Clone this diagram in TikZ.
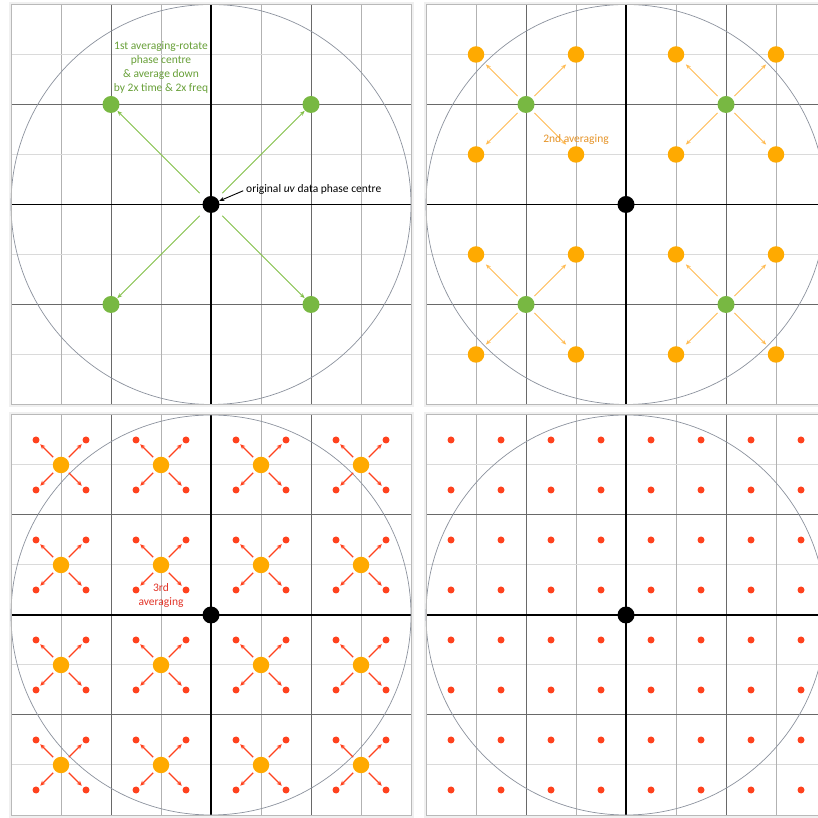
\documentclass[tikz,border=0pt]{standalone}
\usepackage{fontspec}
\setmainfont{Carlito}
\usepackage{tikz}
\usetikzlibrary{arrows.meta}
\definecolor{GridLight}{RGB}{178,178,178}
\definecolor{GridPale}{RGB}{218,218,218}
\definecolor{GridDark}{RGB}{105,105,105}
\definecolor{RimGray}{RGB}{140,146,158}
\definecolor{LeafGreen}{RGB}{120,184,66}
\definecolor{ArrowGreen}{RGB}{130,192,72}
\definecolor{NoteGreen}{RGB}{104,160,56}
\definecolor{Amber}{RGB}{255,170,0}
\definecolor{ArrowAmber}{RGB}{255,188,84}
\definecolor{TextAmber}{RGB}{230,148,40}
\definecolor{Vermilion}{RGB}{255,66,30}
\definecolor{TextRed}{RGB}{226,52,40}

\tikzset{
	minorv/.style={draw=GridLight, line width=1pt},
	minorh/.style={draw=GridPale, line width=1pt},
	major/.style={draw=GridDark, line width=1pt},
	axis/.style={draw=black, line width=1.1pt},
	rim/.style={draw=RimGray, line width=0.7pt},
	greenarrow/.style={ArrowGreen, line width=0.9pt, -{Stealth[length=5pt,width=4pt]}, shorten <=16pt, shorten >=9pt},
	amberarrow/.style={ArrowAmber, line width=0.9pt, -{Stealth[length=5pt,width=4pt]}, shorten <=12pt, shorten >=14pt},
	redarrow/.style={Vermilion, line width=1.1pt, -{Stealth[length=5pt,width=4.5pt]}, shorten <=11pt, shorten >=6pt},
	notetext/.style={font=\fontsize{11.5}{14}\selectfont, align=center, inner sep=1pt}
}

\begin{document}
\begin{tikzpicture}[x=50pt, y=50pt]
		\clip (0,0) rectangle (16.36,16.36);
		\fill[white] (0,0) rectangle (16.36,16.36);
		\coordinate (O1) at (4.22,12.27);
		\coordinate (O2) at (12.52,12.27);
		\coordinate (O3) at (4.22,4.06);
		\coordinate (O4) at (12.52,4.06);
		% grids
		\foreach \p in {O1,O2,O3,O4} {
			\begin{scope}[shift={(\p)}]
				\draw[gray!12, line width=5pt] (-4,-4) rectangle (4,4);
				\fill[white] (-4,-4) rectangle (4,4);
				\foreach \k in {-3,-1,1,3} {
					\draw[minorh] (-4,\k) -- (4,\k);
					\draw[minorv] (\k,-4) -- (\k,4);
				}
				\foreach \k in {-2,2} {
					\draw[major] (-4,\k) -- (4,\k);
					\draw[major] (\k,-4) -- (\k,4);
				}
				\draw[axis] (-4,0) -- (4,0);
				\draw[axis] (0,-4) -- (0,4);
				\draw[rim] (0,0) circle (4);
				\draw[gray!55, line width=1pt] (-4,-4) rectangle (4,4);
			\end{scope}
		}
		% 1st averaging
		\begin{scope}[shift={(O1)}]
			\foreach \gx/\gy/\n in {-2/2/a, 2/2/b, -2/-2/c, 2/-2/d} {
				\coordinate (G1\n) at (\gx,\gy);
				\draw[greenarrow] (O1) -- (G1\n);
				\fill[LeafGreen] (G1\n) circle (0.17);
			}
			\node[notetext, NoteGreen] (avg1) at (-1,2.74) {1st averaging-rotate\\phase centre\\\& average down\\by 2x time \& 2x freq};
			\node[notetext, anchor=west] (orig) at (0.68,0.29) {original \textit{uv} data phase centre};
		\end{scope}
		\draw[-{Stealth[length=5pt,width=4pt]}, line width=0.9pt, shorten <=2pt, shorten >=9pt] (orig.west) -- (O1);
		% 2nd averaging
		\begin{scope}[shift={(O2)}]
			\foreach \gx/\gy/\n in {-2/2/a, 2/2/b, -2/-2/c, 2/-2/d} {
				\coordinate (G2\n) at (\gx,\gy);
				\foreach \ox/\oy/\m in {-1/1/a, 1/1/b, -1/-1/c, 1/-1/d} {
					\coordinate (A2\n\m) at (\gx+\ox,\gy+\oy);
					\draw[amberarrow] (G2\n) -- (A2\n\m);
					\fill[Amber] (A2\n\m) circle (0.165);
				}
				\fill[LeafGreen] (G2\n) circle (0.17);
			}
			\node[notetext, TextAmber] (avg2) at (-1,1.29) {2nd averaging};
		\end{scope}
		% 3rd averaging
		\begin{scope}[shift={(O3)}]
			\foreach \ox [count=\i] in {-3,-1,1,3} {
				\foreach \oy [count=\j] in {-3,-1,1,3} {
					\coordinate (A3\i\j) at (\ox,\oy);
					\foreach \rx/\ry/\m in {-0.5/0.5/a, 0.5/0.5/b, -0.5/-0.5/c, 0.5/-0.5/d} {
						\coordinate (R3\i\j\m) at (\ox+\rx,\oy+\ry);
						\draw[redarrow] (A3\i\j) -- (R3\i\j\m);
						\fill[Vermilion] (R3\i\j\m) circle (0.07);
					}
					\fill[Amber] (A3\i\j) circle (0.165);
				}
			}
			\node[notetext, TextRed] (avg3) at (-1,0.4) {3rd\\averaging};
		\end{scope}
		% final grid
		\begin{scope}[shift={(O4)}]
			\foreach \rx in {-3.5,-2.5,...,3.5} {
				\foreach \ry in {-3.5,-2.5,...,3.5} {
					\fill[Vermilion] (\rx,\ry) circle (0.07);
				}
			}
		\end{scope}
		% phase centres
		\foreach \p in {O1,O2,O3,O4} {
			\fill (\p) circle (0.17);
		}
	\end{tikzpicture}
\end{document}
